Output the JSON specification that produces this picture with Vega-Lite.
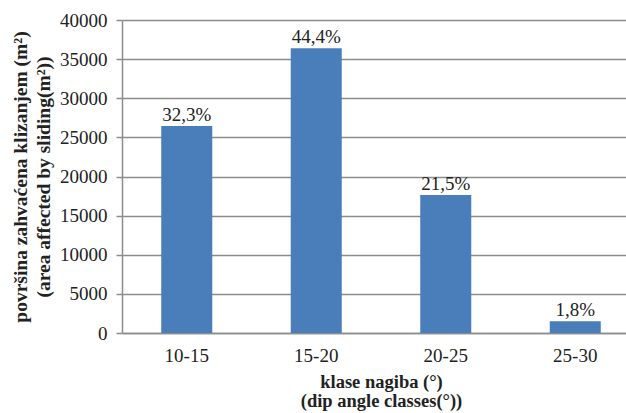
{
  "$schema": "https://vega.github.io/schema/vega-lite/v6.json",
  "autosize": {"type": "none"},
  "width": 504,
  "height": 313,
  "padding": {"left": 122, "top": 20, "right": 0, "bottom": 80},
  "background": "white",
  "config": {"view": {"stroke": null}, "font": "Liberation Serif"},
  "data": {"values": [
    {"klasa": "10-15", "povrsina": 26450, "label": "32,3%"},
    {"klasa": "15-20", "povrsina": 36400, "label": "44,4%"},
    {"klasa": "20-25", "povrsina": 17650, "label": "21,5%"},
    {"klasa": "25-30", "povrsina": 1500, "label": "1,8%"}
  ]},
  "encoding": {
    "x": {
      "field": "klasa", "type": "nominal", "sort": null,
      "scale": {"range": [0, 518], "paddingInner": 0.606, "paddingOuter": 0.303},
      "axis": {
        "title": ["klase nagiba (°)", "(dip angle classes(°))"],
        "titleFont": "Liberation Serif", "titleFontSize": 18.5, "titleFontWeight": "bold",
        "titleColor": "#222222", "titleLineHeight": 19, "titlePadding": 7,
        "labelFont": "Liberation Serif", "labelFontSize": 19, "labelColor": "#222222",
        "labelAngle": 0, "ticks": false, "tickSize": 0, "labelPadding": 13,
        "domainColor": "#8c8c8c", "domainWidth": 1.5
      }
    },
    "y": {
      "field": "povrsina", "type": "quantitative",
      "scale": {"domain": [0, 40000], "nice": false},
      "axis": {
        "values": [0, 5000, 10000, 15000, 20000, 25000, 30000, 35000, 40000],
        "format": "d",
        "title": ["površina zahvaćena klizanjem (m²)", "(area affected by sliding(m²))"],
        "titleFont": "Liberation Serif", "titleFontSize": 19.5, "titleFontWeight": "bold",
        "titleColor": "#222222", "titleLineHeight": 23, "titlePadding": 6,
        "labelFont": "Liberation Serif", "labelFontSize": 19, "labelColor": "#222222",
        "labelPadding": 9, "tickSize": 6, "tickColor": "#8c8c8c", "tickWidth": 1.5,
        "domainColor": "#8c8c8c", "domainWidth": 1.5,
        "grid": true, "gridColor": "#8c8c8c", "gridWidth": 1.5
      }
    }
  },
  "layer": [
    {"mark": {"type": "bar", "color": "#4A7EBB"}},
    {
      "mark": {"type": "text", "font": "Liberation Serif", "fontSize": 19, "color": "#222222", "baseline": "alphabetic", "dy": -5},
      "encoding": {"text": {"field": "label"}}
    }
  ]
}
